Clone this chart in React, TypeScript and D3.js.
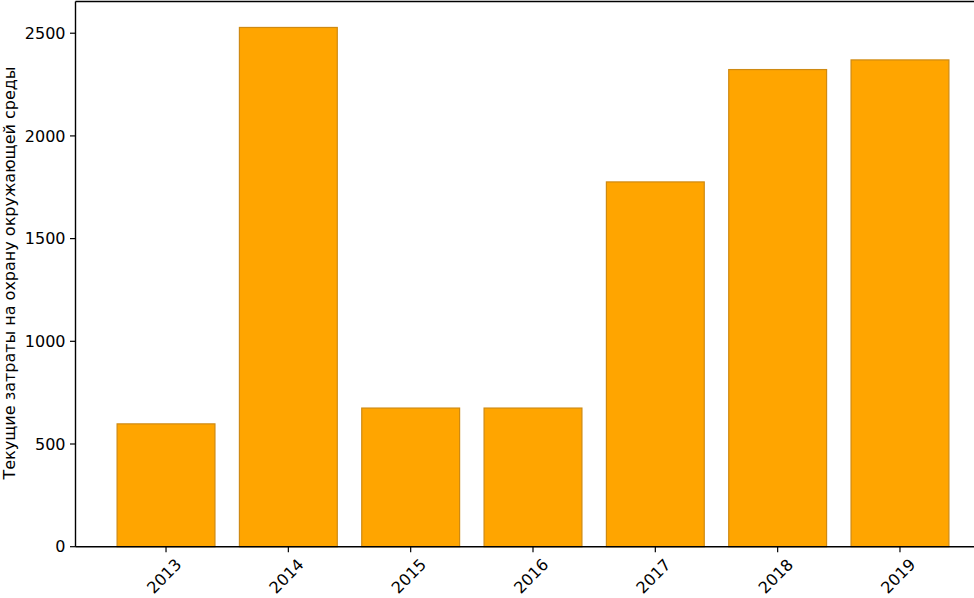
import React from "react";
import * as d3 from "d3";

const years = ["2013", "2014", "2015", "2016", "2017", "2018", "2019"];
const values = [598, 2528, 675, 675, 1776, 2323, 2370];
const yTicks = [0, 500, 1000, 1500, 2000, 2500];
const yLabel = "Текущие затраты на охрану окружающей среды";

export default function App() {
  const W = 974, H = 598;
  const left = 75.5, right = 990.5, top = 1.5, bottom = 546.7;
  const barW = 0.8;
  const lo = -barW / 2, hi = years.length - 1 + barW / 2;
  const pad = (hi - lo) * 0.05;
  const x = d3.scaleLinear().domain([lo - pad, hi + pad]).range([left, right]);
  const ymax = (d3.max(values) as number) * 1.05;
  const y = d3.scaleLinear().domain([0, ymax]).range([bottom, top]);
  const font = "DejaVu Sans, sans-serif";
  return (
    <svg width={W} height={H} style={{ position: "absolute", left: 0, top: 0, background: "#fff" }}>
      <rect x={0} y={0} width={W} height={H} fill="#fff" />
      {values.map((v, i) => (
        <rect
          key={i}
          x={x(i - barW / 2)}
          y={y(v)}
          width={x(i + barW / 2) - x(i - barW / 2)}
          height={y(0) - y(v)}
          fill="#FFA500"
          stroke="#cf8a12"
          strokeWidth={1.2}
        />
      ))}
      {/* spines */}
      <line x1={left} x2={left} y1={top} y2={bottom} stroke="#000" strokeWidth={1.4} />
      <line x1={left} x2={W} y1={bottom} y2={bottom} stroke="#000" strokeWidth={1.4} />
      <line x1={left} x2={W} y1={top} y2={top} stroke="#000" strokeWidth={1.4} />
      {/* y ticks */}
      {yTicks.map((t) => (
        <g key={t}>
          <line x1={left - 5.5} x2={left} y1={y(t)} y2={y(t)} stroke="#000" strokeWidth={1.2} />
          <text x={left - 10} y={y(t)} dy="0.36em" textAnchor="end" fontFamily={font} fontSize={16} fill="#000">
            {t}
          </text>
        </g>
      ))}
      {/* x ticks */}
      {years.map((yr, i) => (
        <g key={yr}>
          <line x1={x(i)} x2={x(i)} y1={bottom} y2={bottom + 5.5} stroke="#000" strokeWidth={1.2} />
          <text
            x={x(i) - 2}
            y={576}
            dy="0.36em"
            textAnchor="middle"
            fontFamily={font}
            fontSize={16}
            fill="#000"
            transform={`rotate(-45, ${x(i) - 2}, 576)`}
          >
            {yr}
          </text>
        </g>
      ))}
      <text
        x={0}
        y={0}
        textAnchor="middle"
        fontFamily={font}
        fontSize={16}
        fill="#000"
        transform={`translate(15, 273) rotate(-90)`}
      >
        {yLabel}
      </text>
    </svg>
  );
}
